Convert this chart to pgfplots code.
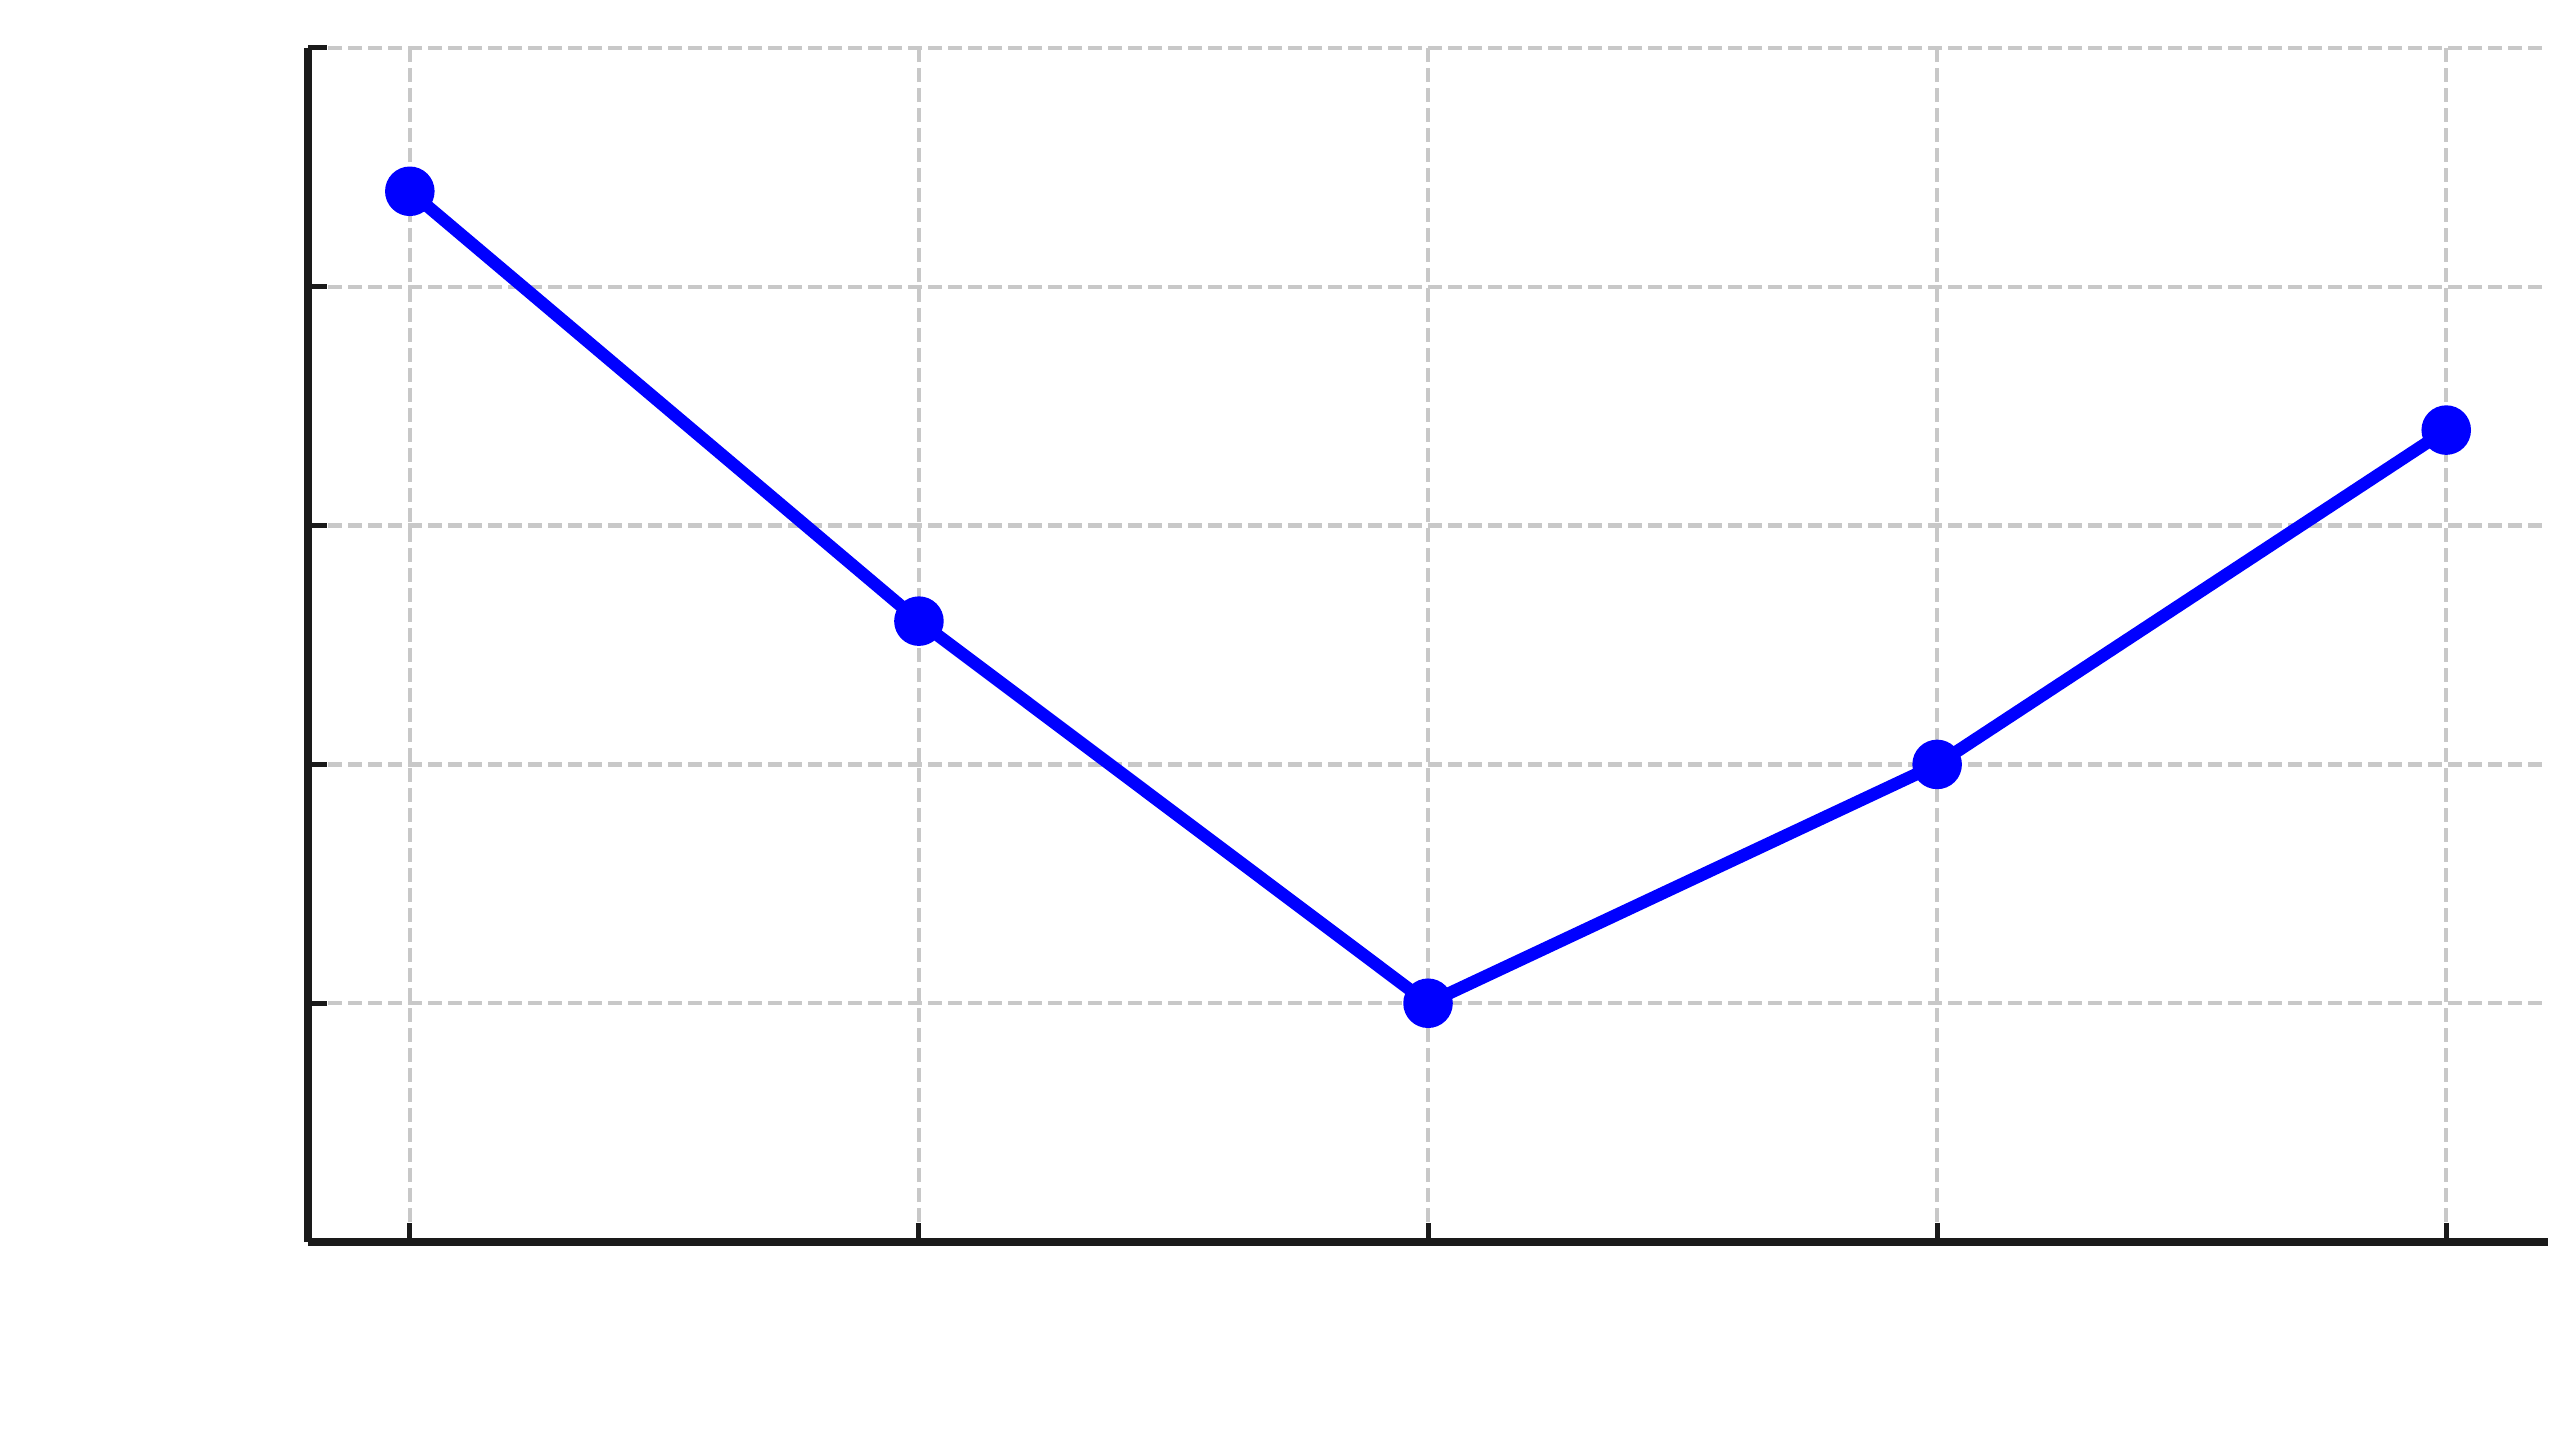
\documentclass[border=0pt]{standalone}
\usepackage{pgfplots}
\pgfplotsset{compat=1.18}
\definecolor{axisdark}{HTML}{1A1A1A}
\definecolor{gridgray}{HTML}{C8C8C8}
\begin{document}
\begin{tikzpicture}
\begin{axis}[
    scale only axis,
    width=224pt, height=119.4pt,
    xmin=-0.2, xmax=4.2,
    ymin=0, ymax=5,
    xtick={0,1,2,3,4},
    ytick={0,1,2,3,4,5},
    xticklabels={}, yticklabels={},
    axis x line*=bottom,
    axis y line*=left,
    axis line style={draw=axisdark, line width=0.75pt, -},
    tick align=inside,
    major tick length=1.9pt,
    tick style={draw=axisdark, line width=0.5pt},
    grid=major,
    major grid style={draw=gridgray, line width=0.45pt, dash pattern=on 1.4pt off 0.6pt},
    clip=false,
]
    \addplot[color=blue, line width=1.25pt, mark=*, mark size=1.85pt,
             mark options={fill=blue, draw=none}]
        coordinates {(0,4.4) (1,2.6) (2,1.0) (3,2.0) (4,3.4)};
\end{axis}
\pgfresetboundingbox
\path (current axis.south west) ++(-30.8pt,-20.6pt) rectangle (current axis.north east) ++(2.4pt,4.8pt);
\end{tikzpicture}
\end{document}
